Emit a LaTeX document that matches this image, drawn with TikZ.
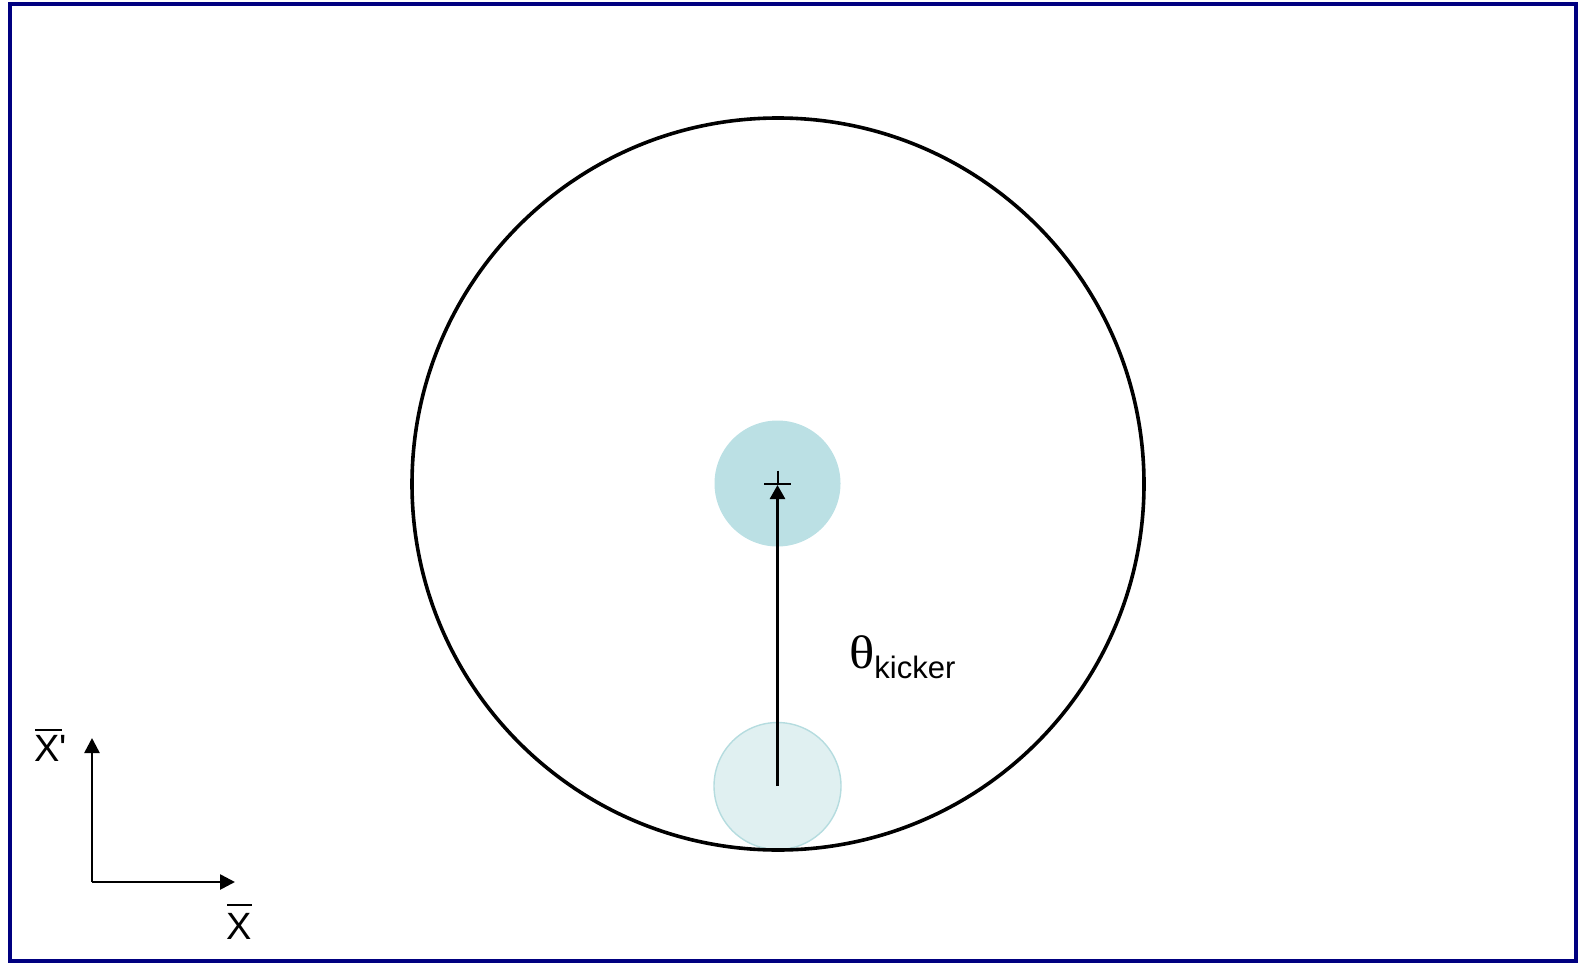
\documentclass[tikz,border=0pt]{standalone}
\usepackage{fontspec}
\setmainfont{Liberation Sans}
\newfontfamily\serifgreek{Liberation Serif}
\usetikzlibrary{arrows.meta}
\definecolor{framenavy}{RGB}{0,0,128}
\definecolor{beamfill}{RGB}{187,224,228}
\definecolor{ghostfill}{RGB}{224,240,241}
\definecolor{ghostline}{RGB}{181,220,223}
\tikzset{
  aperture/.style={circle, draw=black, line width=3.6pt, minimum size=732pt, inner sep=0pt},
  beam/.style={circle, fill=beamfill, minimum size=126pt, inner sep=0pt},
  ghost/.style={circle, fill=ghostfill, draw=ghostline, line width=1.4pt, minimum size=127pt, inner sep=0pt},
  kickarrow/.style={line width=2.6pt, -{Triangle[length=14pt,width=15pt]}},
  axisarrow/.style={line width=2.6pt, -{Triangle[length=15pt,width=15pt]}},
  lbl/.style={inner sep=0pt, anchor=base west, font=\fontsize{38}{38}\selectfont}
}
\begin{document}
\begin{tikzpicture}[x=1pt,y=-1pt]
\useasboundingbox (0,0) rectangle (1578,963);
\draw[framenavy, line width=4pt] (10,4) rectangle (1576,961);
% beam spots
\node[beam] (bcen) at (777.5,483.5) {};
\node[ghost] (gcen) at (777.5,786) {};
% aperture
\node[aperture] (ap) at (778,484) {};
% cross marker
\coordinate (cc) at (777.5,483.5);
\draw[line width=2pt] ([xshift=-13.5pt]cc) -- ([xshift=13.5pt]cc);
\draw[line width=2pt] ([yshift=13pt]cc) -- (cc);
% kick arrow
\draw[kickarrow] (gcen.center) -- ([yshift=-1.5pt]bcen.center);
% label
\node[inner sep=0pt, anchor=base west] (theta) at (849,668)
  {\scalebox{1.12}[1]{\serifgreek\fontsize{47}{47}\selectfont θ}\raisebox{-10pt}{\fontsize{31}{31}\selectfont kicker}};
% axes
\coordinate (o) at (92,882);
\coordinate (yend) at (92,738);
\coordinate (xend) at (235,882);
\draw[axisarrow] (o) -- (yend);
\draw[axisarrow] (o) -- (xend);
\node[lbl] (xp) at (34,761) {X\textquotesingle};
\node[lbl] (xx) at (226,939) {X};
\draw[line width=2pt] (35,729.5) -- (61.5,729.5);
\draw[line width=2pt] (227,904.5) -- (252,904.5);
\end{tikzpicture}
\end{document}
